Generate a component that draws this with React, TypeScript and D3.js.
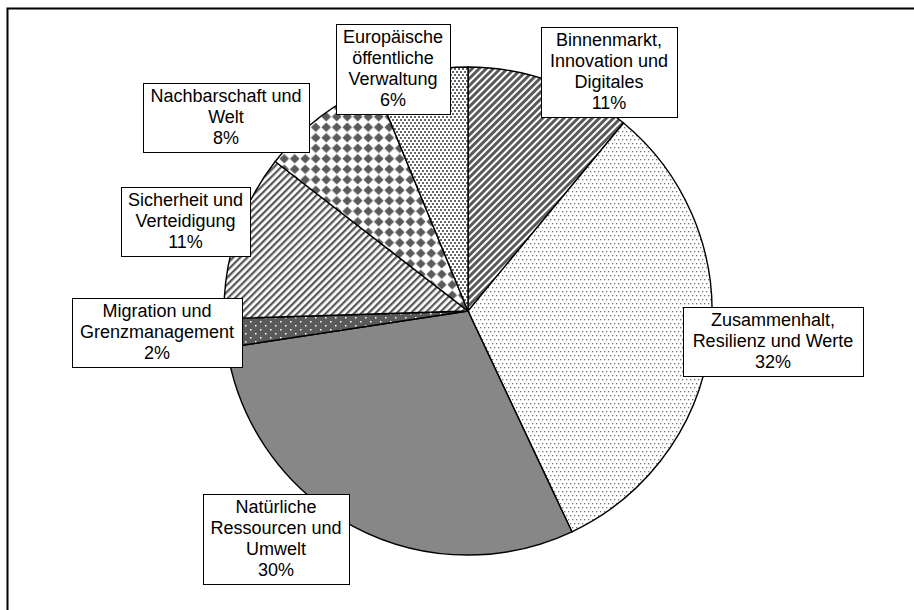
import React from 'react';
import * as d3 from 'd3';

// Haushaltsrubriken, Anteil in Prozent
const categories = [
  'Binnenmarkt, Innovation und Digitales',
  'Zusammenhalt, Resilienz und Werte',
  'Natürliche Ressourcen und Umwelt',
  'Migration und Grenzmanagement',
  'Sicherheit und Verteidigung',
  'Nachbarschaft und Welt',
  'Europäische öffentliche Verwaltung',
];
const values = [11.0, 32.0, 29.6, 1.9, 11.0, 8.3, 6.2];
const labelLines = [
  ['Binnenmarkt,', 'Innovation und', 'Digitales'],
  ['Zusammenhalt,', 'Resilienz und Werte'],
  ['Natürliche', 'Ressourcen und', 'Umwelt'],
  ['Migration und', 'Grenzmanagement'],
  ['Sicherheit und', 'Verteidigung'],
  ['Nachbarschaft und', 'Welt'],
  ['Europäische', 'öffentliche', 'Verwaltung'],
];

// layout of the label boxes (center x, top y, width)
const boxes = [
  { cx: 609, top: 27, w: 136 },
  { cx: 773, top: 307, w: 180 },
  { cx: 276, top: 494, w: 146 },
  { cx: 157, top: 298, w: 170 },
  { cx: 185.5, top: 187, w: 129 },
  { cx: 226, top: 83, w: 166 },
  { cx: 393, top: 24, w: 114 },
];
const fills = [
  'url(#wideStripe)',
  'url(#fineDots)',
  '#878787',
  'url(#darkDots)',
  'url(#thinStripe)',
  'url(#diamonds)',
  'url(#confetti)',
];

const width = 914;
const height = 610;
const cx = 468;
const cy = 311;
const radius = 244;
const lineH = 21;

export default function App() {
  const total = d3.sum(values);
  const pct = d3.format('.0%');
  const pie = d3.pie<number>().sort(null).value((d) => d);
  const arcs = pie(values);
  const arc = d3.arc<d3.PieArcDatum<number>>().innerRadius(0).outerRadius(radius);

  return (
    <svg
      width={width}
      height={height}
      style={{ position: 'absolute', left: 0, top: 0, background: '#fff' }}
      fontFamily="'Liberation Sans', Arial, sans-serif"
    >
      <defs>
        <pattern id="wideStripe" patternUnits="userSpaceOnUse" width="5" height="5" patternTransform="rotate(45)">
          <rect width="5" height="5" fill="#fff" />
          <rect width="3" height="5" fill="#5a5a5a" />
        </pattern>
        <pattern id="thinStripe" patternUnits="userSpaceOnUse" width="5" height="5" patternTransform="rotate(45)">
          <rect width="5" height="5" fill="#fff" />
          <rect width="2.3" height="5" fill="#5a5a5a" />
        </pattern>
        <pattern id="fineDots" patternUnits="userSpaceOnUse" width="4" height="8">
          <rect width="4" height="8" fill="#fff" />
          <rect x="0" y="0" width="1.3" height="1.3" fill="#737373" />
          <rect x="2" y="4" width="1.3" height="1.3" fill="#737373" />
        </pattern>
        <pattern id="darkDots" patternUnits="userSpaceOnUse" width="10" height="8">
          <rect width="10" height="8" fill="#5a5a5a" />
          <rect x="2" y="2" width="1.5" height="1.5" fill="#fff" />
          <rect x="7" y="6" width="1.5" height="1.5" fill="#fff" />
        </pattern>
        <pattern id="diamonds" patternUnits="userSpaceOnUse" width="10.5" height="10.5">
          <rect width="10.5" height="10.5" fill="#fff" />
          <polygon points="5.25,0.4 10.1,5.25 5.25,10.1 0.4,5.25" fill="#5a5a5a" />
        </pattern>
        <pattern id="confetti" patternUnits="userSpaceOnUse" width="4" height="6">
          <rect width="4" height="6" fill="#fff" />
          <rect x="0" y="0" width="2" height="2" fill="#666" />
          <rect x="2" y="3" width="2" height="2" fill="#666" />
        </pattern>
      </defs>

      <rect x={7.5} y={8.5} width={width + 20} height={height + 20} fill="#fff" stroke="#000" strokeWidth={2} />

      <g transform={`translate(${cx},${cy})`}>
        {arcs.map((a, i) => (
          <path key={categories[i]} d={arc(a) || ''} fill={fills[i]} stroke="#000" strokeWidth={1.4} />
        ))}
      </g>

      {boxes.map((b, i) => {
        const lines = [...labelLines[i], pct(values[i] / total)];
        const h = lines.length * lineH + 6;
        return (
          <g key={categories[i]}>
            <rect x={b.cx - b.w / 2 + 0.5} y={b.top + 0.5} width={b.w} height={h} fill="#fff" stroke="#000" strokeWidth={1} />
            <text textAnchor="middle" fontSize={18} fill="#000">
              {lines.map((l, j) => (
                <tspan key={j} x={b.cx} y={b.top + 19 + j * lineH}>
                  {l}
                </tspan>
              ))}
            </text>
          </g>
        );
      })}
    </svg>
  );
}
